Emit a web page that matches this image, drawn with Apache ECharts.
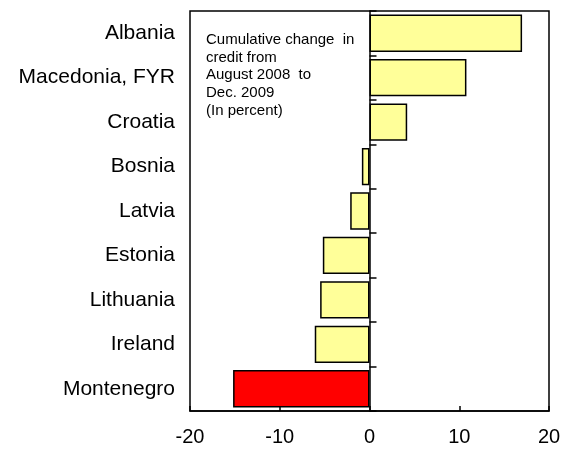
<!DOCTYPE html>
<html>
<head>
<meta charset="utf-8">
<script src="https://cdn.jsdelivr.net/npm/echarts@6/dist/echarts.min.js"></script>
<style>
html, body { margin: 0; padding: 0; background: #fff; }
#main { width: 567px; height: 449px; }
</style>
</head>
<body>
<div id="main"></div>
<script>
// countries top to bottom
var countries = ['Albania', 'Macedonia, FYR', 'Croatia', 'Bosnia', 'Latvia', 'Estonia', 'Lithuania', 'Ireland', 'Montenegro'];
var creditChange = [17.0, 10.8, 4.2, -0.85, -2.15, -5.2, -5.5, -6.1, -15.2];
var highlight = 'Montenegro';
var xTicks = [-20, -10, 0, 10, 20];
var noteLines = ['Cumulative change  in', 'credit from', 'August 2008  to', 'Dec. 2009', '(In percent)'];

var myChart = echarts.init(document.getElementById('main'));

var barData = creditChange.map(function (v, i) {
    return {
        value: v,
        itemStyle: { color: countries[i] === highlight ? '#ff0000' : '#ffff99' }
    };
});

var option = {
    animation: false,
    textStyle: { fontFamily: 'Liberation Sans, Arial, sans-serif' },
    grid: {
        left: 190, right: 18, top: 11, bottom: 38,
        show: true,
        borderColor: '#000',
        borderWidth: 1.5,
        backgroundColor: '#fff'
    },
    graphic: [{
        type: 'text',
        left: 206,
        top: 31,
        style: {
            text: noteLines.join('\n'),
            fontSize: 15,
            lineHeight: 17.7,
            fill: '#000',
            fontFamily: 'Liberation Sans, Arial, sans-serif'
        }
    }],
    xAxis: {
        type: 'value',
        min: xTicks[0],
        max: xTicks[xTicks.length - 1],
        interval: 10,
        splitLine: { show: false },
        axisLine: { show: true, lineStyle: { color: '#000', width: 1.5 } },
        axisTick: { show: true, inside: true, length: 5, lineStyle: { color: '#000', width: 1.5 } },
        axisLabel: { color: '#000', fontSize: 20, margin: 16 }
    },
    yAxis: [
        {
            type: 'category',
            data: countries,
            inverse: true,
            axisLine: { show: false, onZero: false },
            axisTick: { show: false },
            axisLabel: { color: '#000', fontSize: 21, margin: 15 }
        },
        {
            type: 'category',
            data: countries,
            inverse: true,
            position: 'left',
            axisLine: { show: true, onZero: true, lineStyle: { color: '#000', width: 1.5 } },
            axisTick: { show: true, inside: true, length: 7, lineStyle: { color: '#000', width: 1.5 } },
            axisLabel: { show: false }
        }
    ],
    series: [{
        type: 'bar',
        yAxisIndex: 0,
        data: barData,
        barCategoryGap: '16%',
        itemStyle: { borderColor: '#000', borderWidth: 1.5 }
    }]
};

myChart.setOption(option);
</script>
</body>
</html>
